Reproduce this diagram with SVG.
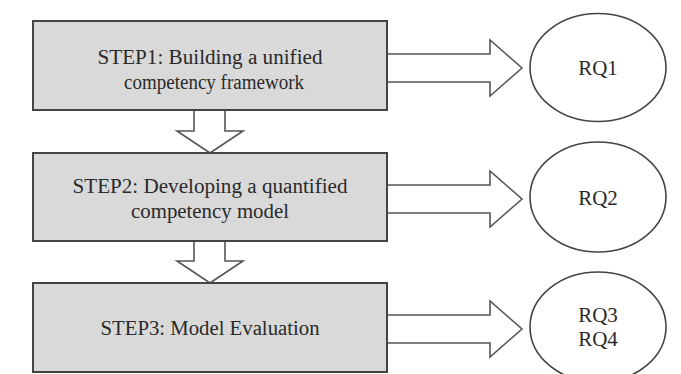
<svg xmlns="http://www.w3.org/2000/svg" width="681" height="374" viewBox="0 0 681 374">
<style>
.box{fill:#d9d9d9;stroke:#444;stroke-width:2}
.arr{fill:#fff;stroke:#555;stroke-width:1.6;stroke-linejoin:miter}
.rq{fill:#fff;stroke:#444;stroke-width:1.6}
text{font-family:"Liberation Serif","Times New Roman",serif;fill:#2a2a2a;text-anchor:middle}
.t{font-size:20px}
.r{font-size:21px}
</style>
<rect width="681" height="374" fill="#fff"/>
<g id="connectors">
<path class="arr" d="M388,54 H490 V40 L522,68 L490,96 V82 H388"/>
<path class="arr" d="M388,185 H490 V171 L522,199 L490,227 V213 H388"/>
<path class="arr" d="M388,315 H490 V301 L522,329 L490,357 V343 H388"/>
<path class="arr" d="M194,111 V131 H177 L210,153 L243,131 H225 V111"/>
<path class="arr" d="M194,242 V261 H177 L210,283 L243,261 H225 V242"/>
</g>
<g id="step1">
<rect class="box" x="33" y="21" width="354" height="89"/>
<text class="t" x="210" y="64" textLength="225" lengthAdjust="spacingAndGlyphs">STEP1: Building a unified</text>
<text class="t" x="214" y="89" textLength="180" lengthAdjust="spacingAndGlyphs">competency framework</text>
</g>
<g id="step2">
<rect class="box" x="33" y="153" width="354" height="88"/>
<text class="t" x="210" y="193" textLength="275" lengthAdjust="spacingAndGlyphs">STEP2: Developing a quantified</text>
<text class="t" x="210" y="218" textLength="158" lengthAdjust="spacingAndGlyphs">competency model</text>
</g>
<g id="step3">
<rect class="box" x="33" y="283" width="354" height="89"/>
<text class="t" x="210" y="335" textLength="219" lengthAdjust="spacingAndGlyphs">STEP3: Model Evaluation</text>
</g>
<g id="rq1">
<ellipse class="rq" cx="598" cy="67.5" rx="68" ry="54"/>
<text class="r" x="598" y="75">RQ1</text>
</g>
<g id="rq2">
<ellipse class="rq" cx="598" cy="197" rx="68" ry="55"/>
<text class="r" x="598" y="205">RQ2</text>
</g>
<g id="rq34">
<ellipse class="rq" cx="598" cy="327" rx="68" ry="55"/>
<text class="r" x="598" y="322">RQ3</text>
<text class="r" x="598" y="346">RQ4</text>
</g>
</svg>
